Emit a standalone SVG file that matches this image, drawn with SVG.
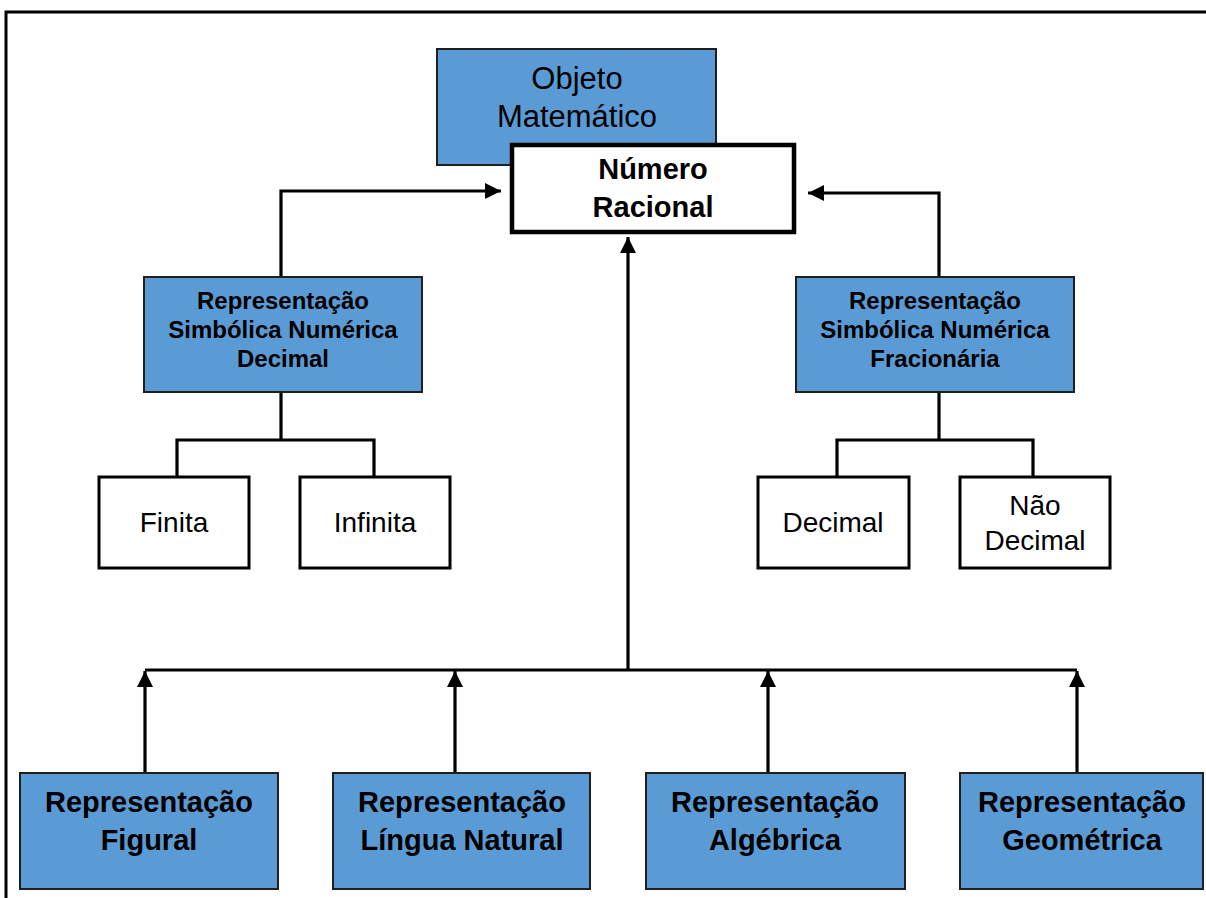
<svg xmlns="http://www.w3.org/2000/svg" width="1206" height="898" viewBox="0 0 1206 898">
<style>
.blue{fill:#5b9bd5;stroke:#1f1f1f;stroke-width:2}
.white{fill:#ffffff;stroke:#000000;stroke-width:3}
.main{fill:#ffffff;stroke:#000000;stroke-width:4.5}
.t{font-family:"Liberation Sans",Arial,sans-serif;fill:#000;text-anchor:middle}
.b{font-weight:bold}
.conn{fill:none;stroke:#000;stroke-width:3.2}
</style>
<defs>
<marker id="arr" viewBox="0 0 10 10" refX="10" refY="5" markerWidth="5" markerHeight="5" markerUnits="strokeWidth" orient="auto">
<path d="M0,0 L10,5 L0,10 Z" fill="#000"/>
</marker>
</defs>
<rect x="6" y="12" width="1220" height="900" fill="none" stroke="#000" stroke-width="3"/>

<g id="connectors">
<polyline class="conn" points="281,277 281,191 501,191" marker-end="url(#arr)"/>
<polyline class="conn" points="939,277 939,193 808,193" marker-end="url(#arr)"/>
<polyline class="conn" points="281,392 281,440"/>
<polyline class="conn" points="177,476 177,440 374,440 374,476"/>
<polyline class="conn" points="939,392 939,440"/>
<polyline class="conn" points="837,476 837,440 1033,440 1033,476"/>
<line class="conn" x1="145" y1="670" x2="1077" y2="670"/>
<line class="conn" x1="628" y1="670" x2="628" y2="237" marker-end="url(#arr)"/>
<line class="conn" x1="145" y1="773" x2="145" y2="671" marker-end="url(#arr)"/>
<line class="conn" x1="455" y1="773" x2="455" y2="671" marker-end="url(#arr)"/>
<line class="conn" x1="768" y1="773" x2="768" y2="671" marker-end="url(#arr)"/>
<line class="conn" x1="1077" y1="773" x2="1077" y2="671" marker-end="url(#arr)"/>
</g>

<g id="objeto">
<rect class="blue" x="437" y="49" width="279" height="116"/>
<text class="t" x="577" y="89" font-size="31">Objeto</text>
<text class="t" x="577" y="127" font-size="31">Matemático</text>
</g>

<g id="numero">
<rect class="main" x="512" y="145" width="282" height="87"/>
<text class="t b" x="653" y="179" font-size="29">Número</text>
<text class="t b" x="653" y="217" font-size="29">Racional</text>
</g>

<g id="decimal-rep">
<rect class="blue" x="144" y="277" width="278" height="115"/>
<text class="t b" x="283" y="309" font-size="24">Representação</text>
<text class="t b" x="283" y="338" font-size="24">Simbólica Numérica</text>
<text class="t b" x="283" y="367" font-size="24">Decimal</text>
</g>

<g id="fracionaria-rep">
<rect class="blue" x="796" y="277" width="278" height="115"/>
<text class="t b" x="935" y="309" font-size="24">Representação</text>
<text class="t b" x="935" y="338" font-size="24">Simbólica Numérica</text>
<text class="t b" x="935" y="367" font-size="24">Fracionária</text>
</g>

<g id="finita">
<rect class="white" x="99" y="477" width="150" height="91"/>
<text class="t" x="174" y="532" font-size="28">Finita</text>
</g>
<g id="infinita">
<rect class="white" x="300" y="477" width="150" height="91"/>
<text class="t" x="375" y="532" font-size="28">Infinita</text>
</g>
<g id="decimal">
<rect class="white" x="758" y="477" width="151" height="91"/>
<text class="t" x="833" y="532" font-size="28">Decimal</text>
</g>
<g id="nao-decimal">
<rect class="white" x="960" y="477" width="150" height="91"/>
<text class="t" x="1035" y="515" font-size="28">Não</text>
<text class="t" x="1035" y="550" font-size="28">Decimal</text>
</g>

<g id="figural">
<rect class="blue" x="20" y="773" width="258" height="116"/>
<text class="t b" x="149" y="812" font-size="29">Representação</text>
<text class="t b" x="149" y="850" font-size="29">Figural</text>
</g>
<g id="lingua">
<rect class="blue" x="333" y="773" width="257" height="116"/>
<text class="t b" x="462" y="812" font-size="29">Representação</text>
<text class="t b" x="462" y="850" font-size="29">Língua Natural</text>
</g>
<g id="algebrica">
<rect class="blue" x="646" y="773" width="259" height="116"/>
<text class="t b" x="775" y="812" font-size="29">Representação</text>
<text class="t b" x="775" y="850" font-size="29">Algébrica</text>
</g>
<g id="geometrica">
<rect class="blue" x="960" y="773" width="243" height="116"/>
<text class="t b" x="1082" y="812" font-size="29">Representação</text>
<text class="t b" x="1082" y="850" font-size="29">Geométrica</text>
</g>
</svg>
